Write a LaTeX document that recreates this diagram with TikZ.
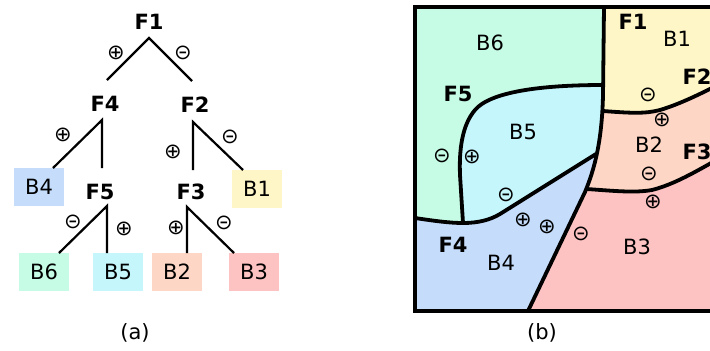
\documentclass[tikz,border=0pt]{standalone}
\usepackage{fontspec}
\setmainfont{DejaVu Sans}
\definecolor{cB6}{RGB}{198,252,229}
\definecolor{cB5}{RGB}{197,246,252}
\definecolor{cB4}{RGB}{197,221,251}
\definecolor{cB1}{RGB}{254,246,199}
\definecolor{cB2}{RGB}{254,214,197}
\definecolor{cB3}{RGB}{253,194,194}
\begin{document}
\begin{tikzpicture}[x=1bp,y=-1bp,
  lab/.style={font=\fontsize{21bp}{25bp}\selectfont, inner sep=0pt},
  flab/.style={font=\fontsize{21bp}{25bp}\selectfont\bfseries, inner sep=0pt},
  sym/.style={font=\fontsize{21bp}{25bp}\selectfont, inner sep=0pt},
  leaf/.style={lab, minimum width=50bp, minimum height=38bp},
  edge/.style={line width=2.2bp},
  bd/.style={line width=3.8bp, line join=round}]
\useasboundingbox (0,0) rectangle (710,350);
\clip (0,0) rectangle (710,350);
% ---------------- (a) tree ----------------
\node[flab] (tF1) at (149,22) {F1};
\node[flab] (tF4) at (105,104) {F4};
\node[flab] (tF2) at (195,105) {F2};
\node[flab] (tF5) at (100,192) {F5};
\node[flab] (tF3) at (191,192) {F3};
\node[leaf, fill=cB4] (tB4) at (39,187) {B4};
\node[leaf, fill=cB1] (tB1) at (257,189) {B1};
\node[leaf, fill=cB6] (tB6) at (44,272) {B6};
\node[leaf, fill=cB5] (tB5) at (118,272) {B5};
\node[leaf, fill=cB2] (tB2) at (177,272) {B2};
\node[leaf, fill=cB3] (tB3) at (254,272) {B3};
\coordinate (a1) at (149,38);
\coordinate (a1l) at (107,80);
\coordinate (a1r) at (192,81);
\coordinate (a4) at (102,120);
\coordinate (a4v) at (102,168);
\coordinate (e4) at (53,168);
\coordinate (a2) at (193,122);
\coordinate (a2v) at (193,170);
\coordinate (e1) at (243,170);
\coordinate (a5) at (107,206);
\coordinate (e6) at (59,253);
\coordinate (e5) at (107,253);
\coordinate (a3) at (187,207);
\coordinate (e2) at (187,253);
\coordinate (e3) at (234,253);
\draw[edge] (a1l) -- (a1) -- (a1r);
\draw[edge] (e4) -- (a4) -- (a4v);
\draw[edge] (a2v) -- (a2) -- (e1);
\draw[edge] (e6) -- (a5) -- (e5);
\draw[edge] (e2) -- (a3) -- (e3);
\node[sym] (s1) at (116,53) {⊕};
\node[sym] (s2) at (183,53) {⊝};
\node[sym] (s3) at (63,135) {⊕};
\node[sym] (s4) at (173,152) {⊕};
\node[sym] (s5) at (230,137) {⊝};
\node[sym] (s6) at (73,222) {⊝};
\node[sym] (s7) at (124,229) {⊕};
\node[sym] (s8) at (176,228) {⊕};
\node[sym] (s9) at (224,223) {⊝};
\node[lab] (capa) at (135,333) {(a)};
% ---------------- (b) partition ----------------
\begin{scope}
\clip (415,7) -- (604,7) -- (603,95) .. controls (602,140) and (595,168) .. (585,192) -- (528,311) -- (415,311) -- cycle;
\fill[cB6] (400,0) rectangle (720,320);
\fill[cB4] (415,218) .. controls (435,221) and (450,223) .. (463,223) .. controls (478,223) and (490,220) .. (500,214) -- (596,154) -- (700,154) -- (700,320) -- (400,320) -- (400,218) -- cycle;
\fill[cB5] (603,85) .. controls (540,85) and (490,92) .. (475,110) .. controls (462,125) and (459,150) .. (460,175) -- (463,223) .. controls (478,223) and (490,220) .. (500,214) -- (596,154) -- (640,154) -- (640,85) -- cycle;
\end{scope}
\begin{scope}
\clip (720,7) -- (604,7) -- (603,95) .. controls (602,140) and (595,168) .. (585,192) -- (528,311) -- (720,311) -- cycle;
\fill[cB1] (500,0) rectangle (720,320);
\fill[cB2] (500,111) -- (603,111) .. controls (630,113) and (645,114) .. (660,110) .. controls (680,104) and (700,94) .. (720,84) -- (720,320) -- (500,320) -- cycle;
\fill[cB3] (500,189) -- (587,189) .. controls (615,191) and (635,193) .. (652,190) .. controls (675,184) and (695,172) .. (720,158) -- (720,320) -- (500,320) -- cycle;
\end{scope}
\draw[bd] (604,7) -- (603,95) .. controls (602,140) and (595,168) .. (585,192) -- (528,311);
\draw[bd] (603,85) .. controls (540,85) and (490,92) .. (475,110) .. controls (462,125) and (459,150) .. (460,175) -- (463,223);
\draw[bd] (415,218) .. controls (435,221) and (450,223) .. (463,223) .. controls (478,223) and (490,220) .. (500,214) -- (596,154);
\draw[bd] (603,111) .. controls (630,113) and (645,114) .. (660,110) .. controls (680,104) and (700,94) .. (720,84);
\draw[bd] (587,189) .. controls (615,191) and (635,193) .. (652,190) .. controls (675,184) and (695,172) .. (720,158);
\draw[bd, line join=miter] (730,7) -- (415,7) -- (415,311) -- (730,311);
\node[lab] (rB6) at (490,43) {B6};
\node[lab] (rB1) at (677,39) {B1};
\node[lab] (rB5) at (523,132) {B5};
\node[lab] (rB2) at (649,145) {B2};
\node[lab] (rB4) at (501,263) {B4};
\node[lab] (rB3) at (637,247) {B3};
\node[flab] (rF1) at (633,22) {F1};
\node[flab] (rF2) at (697,77) {F2};
\node[flab] (rF5) at (458,94) {F5};
\node[flab] (rF3) at (697,152) {F3};
\node[flab] (rF4) at (453,245) {F4};
\node[sym] (r1) at (648,95) {⊝};
\node[sym] (r2) at (662,120) {⊕};
\node[sym] (r3) at (649,174) {⊝};
\node[sym] (r4) at (653,202) {⊕};
\node[sym] (r5) at (442,156) {⊝};
\node[sym] (r6) at (472,157) {⊕};
\node[sym] (r7) at (506,195) {⊝};
\node[sym] (r8) at (523,220) {⊕};
\node[sym] (r9) at (547,227) {⊕};
\node[sym] (r10) at (581,234) {⊝};
\node[lab] (capb) at (542,333) {(b)};
\end{tikzpicture}
\end{document}
